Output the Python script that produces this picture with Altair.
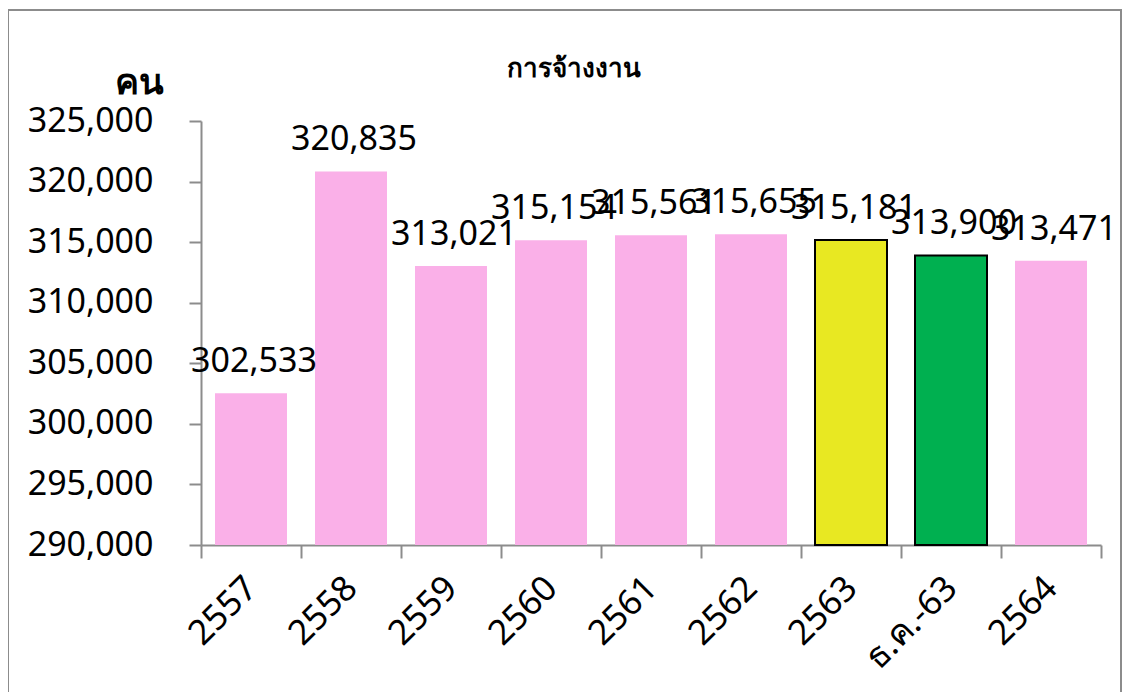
import altair as alt
import pandas as pd

categories = ["2557", "2558", "2559", "2560", "2561", "2562", "2563", "ธ.ค.-63", "2564"]
values = [302533, 320835, 313021, 315154, 315561, 315655, 315181, 313900, 313471]
y_ticks = [290000, 295000, 300000, 305000, 310000, 315000, 320000, 325000]
highlight = ["2563", "ธ.ค.-63"]

df = pd.DataFrame({"cat": categories, "val": values})

FONT = "Noto Sans"
GRAY = "#8c8c8c"

bar_colors = ["#FAB0E8"] * 6 + ["#E8E822", "#00B050", "#FAB0E8"]

base = alt.Chart(df)

x_enc = alt.X(
    "cat:N",
    sort=categories,
    scale=alt.Scale(paddingInner=0, paddingOuter=0),
    axis=alt.Axis(
        title=None,
        labelAngle=-45,
        labelFontSize=35,
        labelFont=FONT,
        labelColor="#000000",
        labelPadding=24,
        labelAlign="right",
        labelBaseline="middle",
        tickBand="extent",
        tickSize=13,
        tickWidth=2,
        tickColor=GRAY,
        domainColor=GRAY,
        domainWidth=2,
    ),
)

y_scale = alt.Scale(domain=[290000, 325000], zero=False, nice=False, clamp=True)

bars = base.mark_bar(strokeWidth=2, width=alt.RelativeBandSize(0.72)).encode(
    x=x_enc,
    y=alt.Y(
        "val:Q",
        scale=y_scale,
        axis=alt.Axis(
            values=y_ticks,
            format=",d",
            grid=False,
            labelFontSize=34,
            labelFont=FONT,
            labelColor="#000000",
            labelPadding=36,
            tickSize=12,
            tickWidth=2,
            tickColor=GRAY,
            domainColor=GRAY,
            domainWidth=2,
            title="คน",
            titleFont=FONT,
            titleFontSize=36,
            titleFontWeight="bold",
            titleColor="#000000",
            titleAngle=0,
            titleAlign="center",
            titleBaseline="alphabetic",
            titleX=-62,
            titleY=-28,
        ),
    ),
    y2=alt.datum(290000),
    color=alt.Color("cat:N", scale=alt.Scale(domain=categories, range=bar_colors), legend=None),
    stroke=alt.condition(
        alt.FieldOneOfPredicate(field="cat", oneOf=highlight),
        alt.value("#000000"),
        alt.value("transparent"),
    ),
)

labels = base.mark_text(
    baseline="alphabetic", align="center", dy=-21, dx=3, fontSize=34, font=FONT, color="#000000"
).encode(
    x=alt.X("cat:N", sort=categories),
    y=alt.Y("val:Q", scale=y_scale),
    text=alt.Text("val:Q", format=",d"),
)

frame = base.mark_rect(filled=False, stroke=GRAY, strokeWidth=2).encode(
    x=alt.value(-193), x2=alt.value(920), y=alt.value(-111), y2=alt.value(640)
).transform_filter(alt.datum.cat == "2557")

chart = (
    alt.layer(frame, bars, labels)
    .properties(
        width=900,
        height=424,
        autosize=alt.AutoSizeParams(type="none"),
        padding={"left": 193, "top": 113, "right": 21, "bottom": 147},
        view=alt.ViewBackground(strokeWidth=0, strokeOpacity=0),
        title=alt.TitleParams(
            "การจ้างงาน",
            font=FONT,
            fontSize=26,
            fontWeight="bold",
            color="#000000",
            anchor="middle",
            frame="group",
            dx=-77,
            baseline="alphabetic",
            offset=-94,
        ),
    )
    .configure_view(strokeWidth=0, strokeOpacity=0)
    .configure(background="#ffffff")
)

chart.save("out.html", embed_options={"renderer": "svg", "actions": False})
